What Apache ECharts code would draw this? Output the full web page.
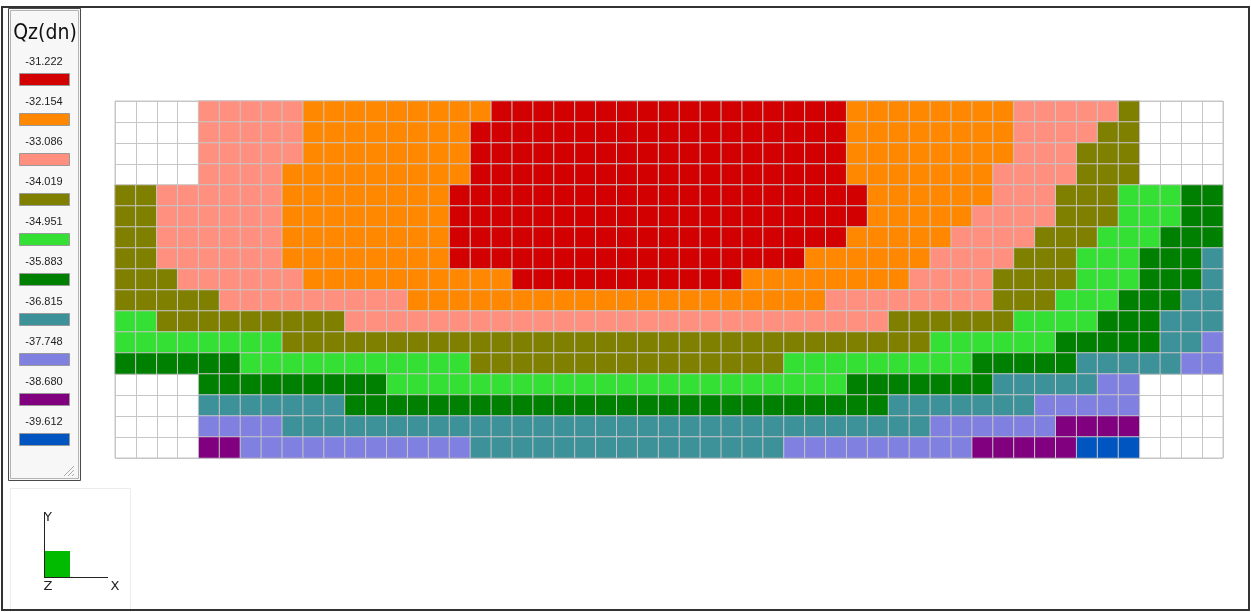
<!DOCTYPE html>
<html>
<head>
<meta charset="utf-8">
<script src="https://cdn.jsdelivr.net/npm/echarts@6/dist/echarts.min.js"></script>
<style>
html,body{margin:0;padding:0;background:#fff;}
#chart{width:1251px;height:612px;}
</style>
</head>
<body>
<div id="chart"></div>
<script>
// Legend levels (Qz in dn) and their colours, top to bottom
const levelCodes  = ['R','O','P','L','G','D','T','V','M','B'];
const levelValues = [-31.222,-32.154,-33.086,-34.019,-34.951,-35.883,-36.815,-37.748,-38.680,-39.612];
const levelLabels = ['-31.222','-32.154','-33.086','-34.019','-34.951','-35.883','-36.815','-37.748','-38.680','-39.612'];
const levelColors = ['#d20000','#ff8800','#ff9080','#808000','#33e033','#008000','#3d9199','#8080e0','#800080','#0055c0'];

// Grid of cells, one string per row (top row first), one letter per column.
// W = empty cell (white)
const gridRows = [
  'WWWWPPPPPOOOOOOOOORRRRRRRRRRRRRRRRROOOOOOOOPPPPPLWWWW',
  'WWWWPPPPPOOOOOOOORRRRRRRRRRRRRRRRRROOOOOOOOPPPPLLWWWW',
  'WWWWPPPPPOOOOOOOORRRRRRRRRRRRRRRRRROOOOOOOOPPPLLLWWWW',
  'WWWWPPPPOOOOOOOOORRRRRRRRRRRRRRRRRROOOOOOOPPPPLLLWWWW',
  'LLPPPPPPOOOOOOOORRRRRRRRRRRRRRRRRRRROOOOOOPPPLLLGGGDD',
  'LLPPPPPPOOOOOOOORRRRRRRRRRRRRRRRRRRROOOOOPPPPLLLGGGDD',
  'LLPPPPPPOOOOOOOORRRRRRRRRRRRRRRRRRROOOOOPPPPLLLGGGDDD',
  'LLPPPPPPOOOOOOOORRRRRRRRRRRRRRRRROOOOOOPPPPLLLGGGDDDT',
  'LLLPPPPPPOOOOOOOOOORRRRRRRRRRROOOOOOOOPPPPLLLLGGGDDDT',
  'LLLLLPPPPPPPPPOOOOOOOOOOOOOOOOOOOOPPPPPPPPLLLGGGDDDTT',
  'GGLLLLLLLLLPPPPPPPPPPPPPPPPPPPPPPPPPPLLLLLLGGGGDDDTTT',
  'GGGGGGGGLLLLLLLLLLLLLLLLLLLLLLLLLLLLLLLGGGGGGDDDDDTTV',
  'DDDDDDGGGGGGGGGGGLLLLLLLLLLLLLLLGGGGGGGGGDDDDDTTTTTVV',
  'WWWWDDDDDDDDDGGGGGGGGGGGGGGGGGGGGGGDDDDDDDTTTTTVVWWWW',
  'WWWWTTTTTTTDDDDDDDDDDDDDDDDDDDDDDDDDDTTTTTTTVVVVVWWWW',
  'WWWWVVVVTTTTTTTTTTTTTTTTTTTTTTTTTTTTTTTVVVVVVMMMMWWWW',
  'WWWWMMVVVVVVVVVVVTTTTTTTTTTTTTTTVVVVVVVVVMMMMMBBBWWWW'
];

const nCols = gridRows[0].length;
const nRows = gridRows.length;
const colCats = Array.from({length:nCols},(_,i)=>String(i));
const rowCats = Array.from({length:nRows},(_,i)=>String(i));

const cells = [];
gridRows.forEach((row,r)=>{
  for(let c=0;c<row.length;c++){
    const k=levelCodes.indexOf(row[c]);
    if(k<0) continue; // empty cell: only the grid lines show
    cells.push({value:[c,r,levelValues[k]],itemStyle:{color:levelColors[k]}});
  }
});

const gridLine = {show:true,interval:0,lineStyle:{color:'#c6c6c6',width:1}};

// legend panel graphics
const legendEls = [];
legendEls.push({type:'rect',shape:{x:8.5,y:8.5,width:72,height:472},style:{fill:'#f7f7f7',stroke:'#4a4a4a',lineWidth:1}});
legendEls.push({type:'rect',shape:{x:10.5,y:10.5,width:68,height:468},style:{fill:'none',stroke:'#b4b4b4',lineWidth:1}});
legendEls.push({type:'text',style:{x:45,y:34,text:'Qz(dn)',font:'21px "DejaVu Sans Condensed","Liberation Sans",sans-serif',fill:'#111',align:'center',verticalAlign:'middle'}});
levelLabels.forEach((lab,i)=>{
  legendEls.push({type:'text',style:{x:44,y:62+40*i,text:lab,font:'11px "Liberation Sans Narrow","Liberation Sans",sans-serif',fill:'#222',align:'center',verticalAlign:'middle'}});
  legendEls.push({type:'rect',shape:{x:19.5,y:73.5+40*i,width:50,height:12},style:{fill:levelColors[i],stroke:'#9a9a9a',lineWidth:1}});
});
// resize grip
legendEls.push({type:'line',shape:{x1:64,y1:476,x2:74,y2:466},style:{stroke:'#aaa',lineWidth:1}});
legendEls.push({type:'line',shape:{x1:68,y1:476,x2:74,y2:470},style:{stroke:'#aaa',lineWidth:1}});
legendEls.push({type:'line',shape:{x1:72,y1:476,x2:74,y2:474},style:{stroke:'#aaa',lineWidth:1}});

// axis triad
const triadEls = [
  {type:'rect',shape:{x:10.5,y:488.5,width:120,height:130},style:{fill:'#fff',stroke:'#ececec',lineWidth:1}},
  {type:'rect',shape:{x:44,y:551,width:26,height:26},style:{fill:'#00bb00'}},
  {type:'line',shape:{x1:44.5,y1:512,x2:44.5,y2:577},style:{stroke:'#222',lineWidth:1}},
  {type:'line',shape:{x1:44,y1:577.5,x2:108,y2:577.5},style:{stroke:'#222',lineWidth:1}},
  {type:'text',style:{x:48,y:518,text:'Y',font:'13px "DejaVu Sans",sans-serif',fill:'#222',align:'center',verticalAlign:'middle'}},
  {type:'text',style:{x:48,y:587,text:'Z',font:'13px "DejaVu Sans",sans-serif',fill:'#222',align:'center',verticalAlign:'middle'}},
  {type:'text',style:{x:115,y:587,text:'X',font:'13px "DejaVu Sans",sans-serif',fill:'#222',align:'center',verticalAlign:'middle'}}
];

// outer frame
const frameEls = [
  {type:'rect',shape:{x:2,y:7,width:1247,height:603},style:{fill:'none',stroke:'#333',lineWidth:2},z:100}
];

const chart = echarts.init(document.getElementById('chart'),null,{renderer:'canvas'});
chart.setOption({
  animation:false,
  backgroundColor:'#ffffff',
  grid:{left:115,right:28,top:101,bottom:154,containLabel:false,show:true,borderColor:'#c6c6c6',borderWidth:1,backgroundColor:'#ffffff'},
  xAxis:{type:'category',data:colCats,axisLine:{show:false},axisTick:{show:false},axisLabel:{show:false},splitLine:gridLine},
  yAxis:{type:'category',data:rowCats,inverse:true,axisLine:{show:false},axisTick:{show:false},axisLabel:{show:false},splitLine:gridLine},
  series:[{
    type:'heatmap',
    data:cells,
    itemStyle:{borderColor:'#c6c6c6',borderWidth:1},
    emphasis:{disabled:true},
    label:{show:false}
  }],
  graphic:[].concat(frameEls,legendEls,triadEls)
});
</script>
</body>
</html>
